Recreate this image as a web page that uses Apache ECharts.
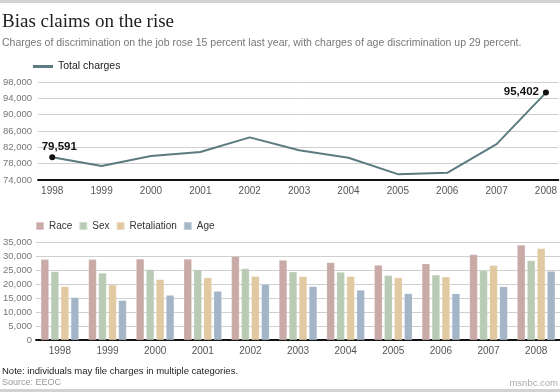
<!DOCTYPE html>
<html>
<head>
<meta charset="utf-8">
<script src="https://cdn.jsdelivr.net/npm/echarts@6/dist/echarts.min.js"></script>
<style>html,body{margin:0;padding:0;background:#fff}#c{width:560px;height:392px}</style>
</head>
<body>
<div id="c"></div>
<script>
const years = ['1998','1999','2000','2001','2002','2003','2004','2005','2006','2007','2008'];
const totalCharges = [79591, 77444, 79896, 80840, 84442, 81293, 79432, 75428, 75768, 82792, 95402];
const race = [28820, 28819, 28945, 28912, 29910, 28526, 27696, 26740, 27238, 30510, 33937];
const sex = [24454, 23907, 25194, 25140, 25536, 24362, 24249, 23094, 23247, 24826, 28372];
const retaliation = [19114, 19694, 21613, 22257, 22768, 22690, 22740, 22278, 22555, 26663, 32690];
const age = [15191, 14141, 16008, 17405, 19921, 19124, 17837, 16585, 16548, 19103, 24582];
const totalTicks = [74000, 78000, 82000, 86000, 90000, 94000, 98000];
const barTicks = [0, 5000, 10000, 15000, 20000, 25000, 30000, 35000];

const fmt = v => String(v).replace(/\B(?=(\d{3})+(?!\d))/g, ',');
const F = 'Arial, "Liberation Sans", sans-serif';
const yearNums = years.map(Number);
const lastIdx = years.length - 1;
const lineColor = '#5b7b80';

const lineData = yearNums.map((y, i) => {
  const item = { value: [y, totalCharges[i]] };
  if (i === 0) {
    item.symbol = 'circle'; item.symbolSize = 6;
    item.label = { show: true, position: 'top', distance: 1, offset: [7, 0] };
  } else if (i === lastIdx) {
    item.symbol = 'circle'; item.symbolSize = 6;
    item.label = { show: true, position: 'left', distance: 4, offset: [0, -1] };
  }
  return item;
});

const colors = { race: '#c9aaa7', sex: '#b9cbb5', ret: '#e1c9a1', age: '#a3b5c7' };

function barSeries(name, data, color) {
  return {
    name, type: 'bar', xAxisIndex: 1, yAxisIndex: 1, data,
    barWidth: 8, barGap: '25%',
    itemStyle: { color, borderColor: 'rgba(255,255,255,0.35)', borderWidth: 0.5 },
    emphasis: { disabled: true }
  };
}

const chart = echarts.init(document.getElementById('c'), null, { renderer: 'canvas' });
chart.setOption({
  animation: false,
  textStyle: { fontFamily: F },
  graphic: [
    { type: 'rect', shape: { x: 0, y: 0, width: 560, height: 3 }, style: { fill: '#d2d2d2' } },
    { type: 'rect', shape: { x: 0, y: 389, width: 560, height: 3 }, style: { fill: '#d2d2d2' } },
    { type: 'text', style: { text: 'Bias claims on the rise', x: 2, y: 22, verticalAlign: 'middle', font: 'normal 19px "Liberation Serif", Georgia, serif', fill: '#222' } },
    { type: 'text', style: { text: 'Charges of discrimination on the job rose 15 percent last year, with charges of age discrimination up 29 percent.', x: 2, y: 43, verticalAlign: 'middle', font: 'normal 10.5px ' + F, fill: '#777' } },
    { type: 'text', style: { text: 'Note: individuals may file charges in multiple categories.', x: 2, y: 371, verticalAlign: 'middle', font: 'normal 9.5px ' + F, fill: '#222' } },
    { type: 'text', style: { text: 'Source: EEOC', x: 2, y: 383, verticalAlign: 'middle', font: 'normal 9px ' + F, fill: '#999' } },
    { type: 'text', style: { text: 'msnbc.com', x: 558, y: 383, align: 'right', verticalAlign: 'middle', font: 'normal 9.5px ' + F, fill: '#aaa' } }
  ],
  legend: [
    {
      data: [{ name: 'Total charges', itemStyle: { color: lineColor } }],
      left: 33, top: 61, padding: 0, itemWidth: 20, itemHeight: 3, icon: 'rect',
      textStyle: { fontSize: 10.5, color: '#222' }, selectedMode: false
    },
    {
      data: ['Race', 'Sex', 'Retaliation', 'Age'], left: 35, top: 221, padding: 0, itemWidth: 8, itemHeight: 8,
      itemGap: 6, icon: 'rect', textStyle: { fontSize: 10, color: '#333' }, selectedMode: false
    }
  ],
  grid: [
    { left: 35, right: 0, top: 82, bottom: 212 },
    { left: 33, right: 0, top: 242, bottom: 52 }
  ],
  xAxis: [
    {
      type: 'value', gridIndex: 0, min: 1997.713, max: 2008.251,
      axisLine: { show: true, onZero: false, lineStyle: { color: '#111', width: 2 } },
      axisTick: { show: false }, splitLine: { show: false },
      axisLabel: { customValues: yearNums, color: '#555', fontSize: 10, margin: 6, formatter: v => String(v) }
    },
    {
      type: 'category', gridIndex: 1, data: years,
      axisLine: { show: true, lineStyle: { color: '#111', width: 2 } },
      axisTick: { show: false },
      axisLabel: { color: '#555', fontSize: 10, margin: 6 }
    }
  ],
  yAxis: [
    {
      type: 'value', gridIndex: 0, min: totalTicks[0], max: totalTicks[totalTicks.length - 1], interval: 4000,
      axisLine: { show: false }, axisTick: { show: false },
      splitLine: { lineStyle: { color: '#cfcfcf', width: 1 } },
      axisLabel: { color: '#777', fontSize: 9.5, margin: 6, formatter: fmt }
    },
    {
      type: 'value', gridIndex: 1, min: barTicks[0], max: barTicks[barTicks.length - 1], interval: 5000,
      axisLine: { show: false }, axisTick: { show: false },
      splitLine: { lineStyle: { color: '#cfcfcf', width: 1 } },
      axisLabel: { color: '#777', fontSize: 9.5, margin: 4, formatter: fmt }
    }
  ],
  series: [
    {
      name: 'Total charges', type: 'line', xAxisIndex: 0, yAxisIndex: 0,
      data: lineData, symbol: 'none', showSymbol: true,
      lineStyle: { color: lineColor, width: 2 },
      itemStyle: { color: '#111' },
      label: { color: '#111', fontWeight: 'bold', fontSize: 11.5, formatter: p => fmt(p.value[1]) },
      emphasis: { disabled: true }
    },
    barSeries('Race', race, colors.race),
    barSeries('Sex', sex, colors.sex),
    barSeries('Retaliation', retaliation, colors.ret),
    barSeries('Age', age, colors.age)
  ]
});
</script>
</body>
</html>
